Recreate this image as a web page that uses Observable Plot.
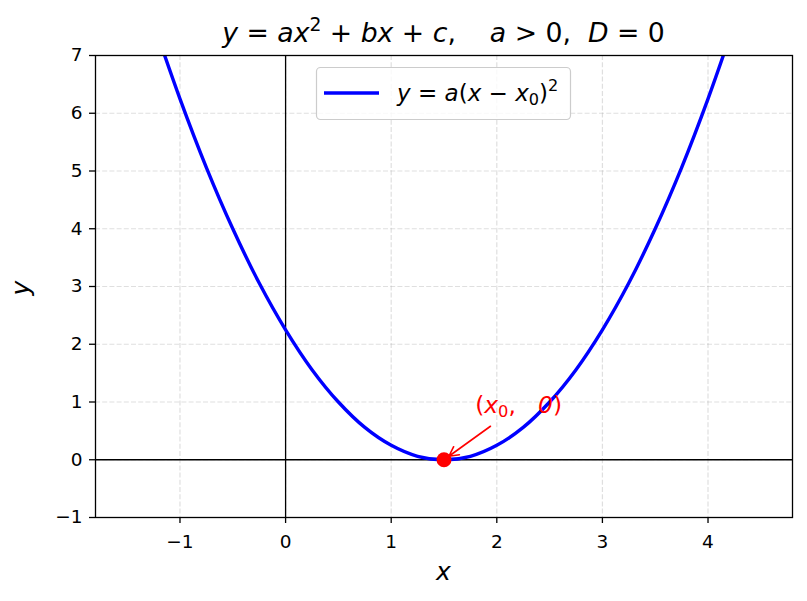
<!DOCTYPE html>
<html>
<head>
<meta charset="utf-8">
<script src="https://cdn.jsdelivr.net/npm/d3@7"></script>
<script src="https://cdn.jsdelivr.net/npm/@observablehq/plot@0.6"></script>
<style>
  html, body { margin: 0; padding: 0; background: #fff; }
  #chart svg { display: block; }
</style>
</head>
<body>
<div id="chart"></div>
<script>
// Curve samples: y = a(x - x0)^2 with a≈1, x0≈1.5
const curveX = [-1.25, -1, -0.75, -0.5, -0.25, 0, 0.25, 0.5, 0.75, 1, 1.25, 1.5, 1.75, 2, 2.25, 2.5, 2.75, 3, 3.25, 3.5, 3.75, 4, 4.25];
const curveY = [7.56, 6.25, 5.06, 4.0, 3.06, 2.25, 1.56, 1.0, 0.56, 0.25, 0.06, 0, 0.06, 0.25, 0.56, 1.0, 1.56, 2.25, 3.06, 4.0, 5.06, 6.25, 7.56];

// Vertex point and its annotation
const vertexX = [1.5];
const vertexY = [0];
const labelX = 1.8;
const labelY = 0.8;
const arrowFrom = [1.94, 0.58];
const arrowTo = [1.5, 0];

// Axes
const xDomain = [-1.8, 4.8];
const yDomain = [-1, 7];
const xTicks = [-1, 0, 1, 2, 3, 4];
const yTicks = [-1, 0, 1, 2, 3, 4, 5, 6, 7];

const curve = curveX.map((x, i) => ({x, y: curveY[i]}));
const vertex = vertexX.map((x, i) => ({x, y: vertexY[i]}));

const W = 807, H = 601;
const TICK_FS = 18.5;
const fmt = d3.format("d");
const plot = Plot.plot({
  width: W,
  height: H,
  marginLeft: 95,
  marginRight: 15,
  marginTop: 55,
  marginBottom: 84,
  style: {fontFamily: "DejaVu Sans", fontSize: TICK_FS + "px", color: "#000", background: "#fff"},
  x: {domain: xDomain, label: null},
  y: {domain: yDomain, label: null},
  marks: [
    Plot.gridX(xTicks, {stroke: "#b0b0b0", strokeOpacity: 0.4, strokeWidth: 1.2, strokeDasharray: "5,2.2"}),
    Plot.gridY(yTicks, {stroke: "#b0b0b0", strokeOpacity: 0.4, strokeWidth: 1.2, strokeDasharray: "5,2.2"}),
    Plot.ruleX([0], {stroke: "#000", strokeWidth: 1.3}),
    Plot.ruleY([0], {stroke: "#000", strokeWidth: 1.3}),
    Plot.line(curve, {x: "x", y: "y", stroke: "#0000ff", strokeWidth: 3.4, curve: "catmull-rom", clip: true}),
    Plot.arrow([{x1: arrowFrom[0], y1: arrowFrom[1], x2: arrowTo[0], y2: arrowTo[1]}], {
      x1: "x1", y1: "y1", x2: "x2", y2: "y2", stroke: "#ff0000", strokeWidth: 1.6,
      headLength: 10, headAngle: 55, insetEnd: 6
    }),
    Plot.dot(vertex, {x: "x", y: "y", r: 7.5, fill: "#ff0000", stroke: "none"}),
    Plot.frame({stroke: "#000", strokeWidth: 1.3}),
    Plot.axisX(xTicks, {tickSize: 6, tickPadding: 11.5, fontSize: TICK_FS, tickFormat: fmt, label: null, strokeWidth: 1.3}),
    Plot.axisY(yTicks, {tickSize: 6, tickPadding: 7, fontSize: TICK_FS, tickFormat: fmt, label: null, strokeWidth: 1.3})
  ]
});

document.getElementById("chart").appendChild(plot);

const svg = d3.select(plot);
svg.selectAll('g[aria-label$="tick label"]').attr("fill", "#000");

const sx = plot.scale("x"), sy = plot.scale("y");
const left = 95, right = W - 15;
const cx = (left + right) / 2;

// helper to add math-like text with tspans
function mathText(g, parts, opts) {
  const t = g.append("text")
    .attr("x", opts.x).attr("y", opts.y)
    .attr("text-anchor", opts.anchor || "start")
    .attr("font-family", "DejaVu Sans")
    .attr("font-size", opts.size)
    .attr("fill", opts.fill || "#000")
    .attr("style", "white-space: pre");
  if (opts.transform) t.attr("transform", opts.transform);
  let shift = 0;
  for (const p of parts) {
    const s = t.append("tspan").text(p.t);
    if (p.i) s.attr("font-style", "italic");
    let target = p.sup ? -opts.size * 0.42 : p.sub ? opts.size * 0.18 : 0;
    const dy = target - shift;
    if (dy !== 0) s.attr("dy", dy);
    shift = target;
    if (p.sup || p.sub) s.attr("font-size", opts.size * 0.7);
  }
  return t;
}

const g = svg.append("g");

// Title
mathText(g, [
  {t: "y", i: 1}, {t: " = "}, {t: "ax", i: 1}, {t: "2", sup: 1}, {t: " + "},
  {t: "bx", i: 1}, {t: " + "}, {t: "c", i: 1}, {t: ",    "}, {t: "a", i: 1},
  {t: " > 0,  "}, {t: "D", i: 1}, {t: " = 0"}
], {x: cx, y: 42, anchor: "middle", size: 26.7});

// Axis labels
mathText(g, [{t: "x", i: 1}], {x: cx, y: 580, anchor: "middle", size: 25});
mathText(g, [{t: "y", i: 1}], {x: 0, y: 0, anchor: "middle", size: 25, transform: "translate(29,288) rotate(-90)"});

// Annotation
mathText(g, [
  {t: "("}, {t: "x", i: 1}, {t: "0", sub: 1}, {t: ",   "}, {t: "0", i: 1}, {t: ")"}
], {x: sx.apply(labelX), y: sy.apply(labelY), size: 23.3, fill: "#ff0000"});

// Legend
const lg = svg.append("g");
lg.append("rect").attr("x", 316.5).attr("y", 67.5).attr("width", 254).attr("height", 52)
  .attr("rx", 4).attr("fill", "#fff").attr("fill-opacity", 0.8)
  .attr("stroke", "#cccccc").attr("stroke-width", 1.2);
lg.append("line").attr("x1", 324).attr("x2", 379).attr("y1", 93).attr("y2", 93)
  .attr("stroke", "#0000ff").attr("stroke-width", 3.4);
mathText(lg, [
  {t: "y", i: 1}, {t: " = "}, {t: "a", i: 1}, {t: "("}, {t: "x", i: 1}, {t: " − "},
  {t: "x", i: 1}, {t: "0", sub: 1}, {t: ")"}, {t: "2", sup: 1}
], {x: 397, y: 101, size: 23});
</script>
</body>
</html>
